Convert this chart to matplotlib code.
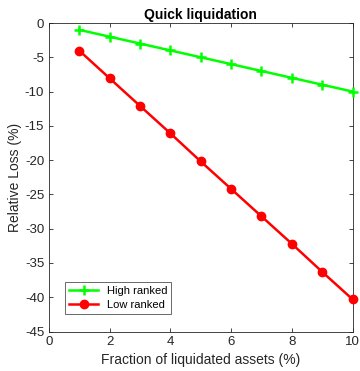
import matplotlib
matplotlib.use("Agg")
import matplotlib.pyplot as plt

plt.rcParams['font.family'] = ['Liberation Sans', 'DejaVu Sans']
plt.rcParams['axes.unicode_minus'] = False

# data
fraction = [1, 2, 3, 4, 5, 6, 7, 8, 9, 10]
high_ranked = [-1, -2, -3, -4, -5, -6, -7, -8, -9, -10]
low_ranked = [-4.04, -8.08, -12.1, -16.1, -20.2, -24.2, -28.2, -32.2, -36.3, -40.3]

fig = plt.figure(figsize=(3.6, 3.71), dpi=100)
ax = fig.add_axes([49 / 360, 1 - 331.5 / 371, 303.5 / 360, 308.5 / 371])

ax.plot(fraction, high_ranked, color='#00ff00', lw=1.8, marker='+', ms=7, mew=1.8,
        label='High ranked', clip_on=False, zorder=3)
ax.plot(fraction, low_ranked, color='#ff0000', lw=1.8, marker='o', ms=6,
        label='Low ranked', clip_on=False, zorder=3)

ax.set_xlim(0, 10)
ax.set_ylim(-45, 0)
ax.set_xticks(range(0, 11, 2))
ax.set_yticks(range(-45, 1, 5))
ax.tick_params(direction='in', top=True, right=True, labelsize=9.5,
               colors='#262626', length=3, width=0.6)
for sp in ax.spines.values():
    sp.set_color('#262626')
    sp.set_linewidth(0.6)

ax.set_title('Quick liquidation', fontsize=10, fontweight='bold', pad=3)
ax.set_xlabel('Fraction of liquidated assets (%)', fontsize=10, color='#262626', labelpad=3)
ax.set_ylabel('Relative Loss (%)', fontsize=10, color='#262626', labelpad=2)

leg = ax.legend(loc='lower left', fontsize=8, fancybox=False, edgecolor='#262626',
                handlelength=2.6, borderpad=0.35, labelspacing=0.35,
                bbox_to_anchor=(0.035, 0.04))
leg.get_frame().set_linewidth(0.6)

fig.savefig('out.png', dpi=100)
